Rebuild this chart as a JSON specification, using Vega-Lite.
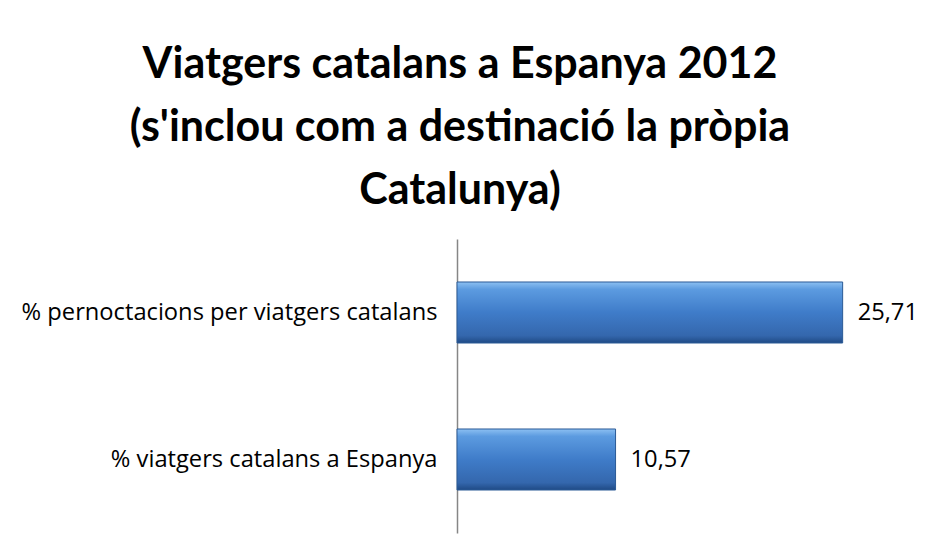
{
  "$schema": "https://vega.github.io/schema/vega-lite/v6.json",
  "autosize": {"type": "none"},
  "width": 450,
  "height": 294,
  "padding": {"left": 457, "top": 239, "right": 21, "bottom": 22},
  "background": "white",
  "title": {
    "text": ["Viatgers catalans a Espanya 2012", "(s'inclou com a destinació la pròpia", "Catalunya)"],
    "font": "Lato",
    "fontSize": 43,
    "fontWeight": "bold",
    "color": "#000000",
    "anchor": "middle",
    "frame": "group",
    "dx": -222,
    "baseline": "alphabetic",
    "lineHeight": 63,
    "offset": -8
  },
  "data": {
    "values": [
      {"indicador": "% pernoctacions per viatgers catalans", "valor": 25.71},
      {"indicador": "% viatgers catalans a Espanya", "valor": 10.57}
    ]
  },
  "encoding": {
    "y": {
      "field": "indicador",
      "type": "nominal",
      "sort": null,
      "scale": {"paddingInner": 0.585, "paddingOuter": 0.2925},
      "axis": {
        "title": null,
        "ticks": false,
        "labelFont": "Open Sans",
        "labelFontSize": 23.7,
        "labelColor": "#000000",
        "labelPadding": 20,
        "labelLimit": 500,
        "domainColor": "#868686",
        "domainWidth": 1.5
      }
    },
    "x": {
      "field": "valor",
      "type": "quantitative",
      "scale": {"domain": [0, 30], "nice": false},
      "axis": null
    }
  },
  "layer": [
    {
      "mark": {
        "type": "bar",
        "color": {
          "gradient": "linear",
          "x1": 0, "y1": 0, "x2": 0, "y2": 1,
          "stops": [
            {"offset": 0, "color": "#8cc0f2"},
            {"offset": 0.12, "color": "#5c9be0"},
            {"offset": 0.5, "color": "#3f7cc9"},
            {"offset": 0.88, "color": "#3467ad"},
            {"offset": 1, "color": "#1f4a85"}
          ]
        },
        "stroke": "#2b5a96",
        "strokeWidth": 1
      }
    },
    {
      "mark": {
        "type": "text",
        "align": "left",
        "baseline": "middle",
        "dx": 15,
        "font": "Open Sans",
        "fontSize": 23.7,
        "color": "#000000"
      },
      "encoding": {
        "text": {"field": "valor", "type": "quantitative", "format": ".2f"}
      }
    }
  ],
  "config": {
    "view": {"stroke": null},
    "locale": {"number": {"decimal": ",", "thousands": ".", "grouping": [3], "currency": ["", " €"]}}
  }
}
